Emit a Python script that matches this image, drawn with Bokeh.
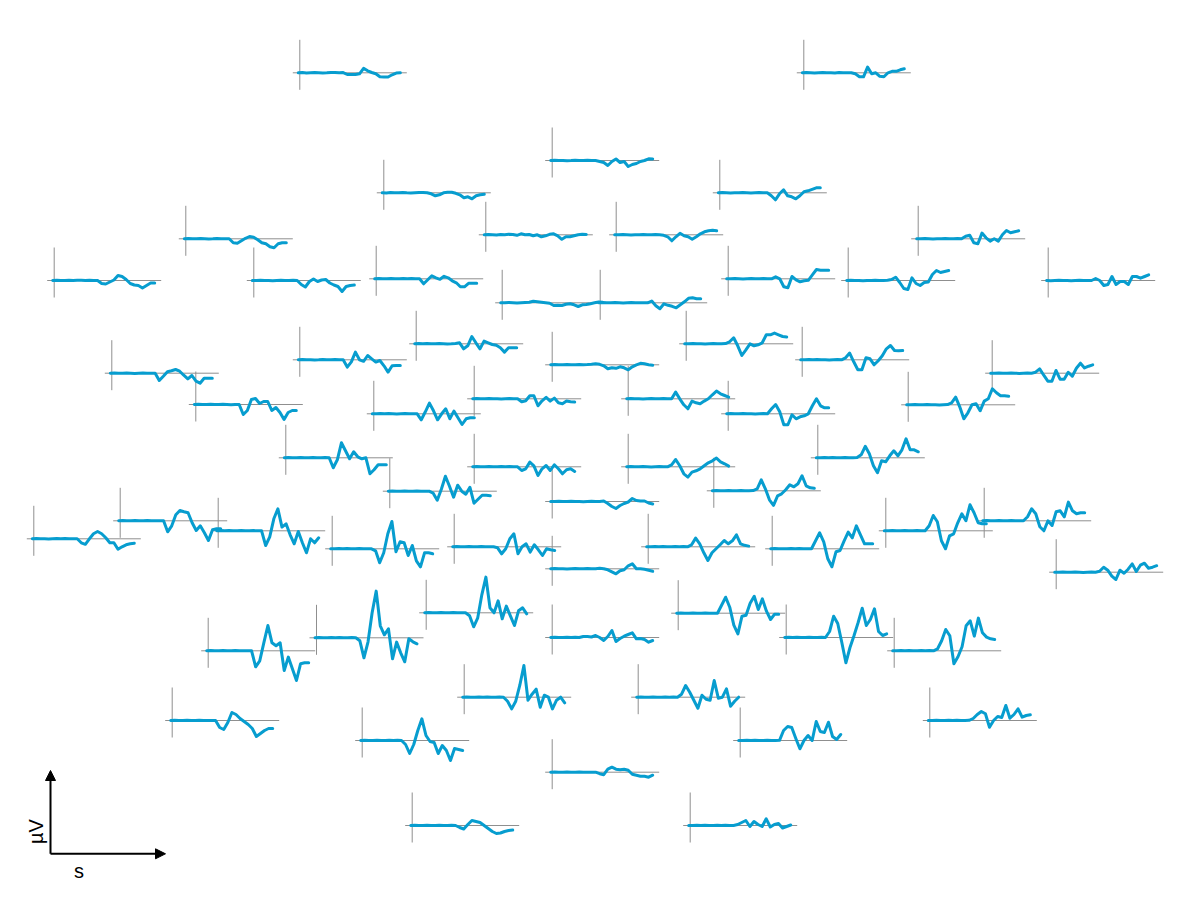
from math import pi
from bokeh.plotting import figure
from bokeh.models import Range1d, Arrow, NormalHead
from bokeh.embed import file_html
from bokeh.resources import INLINE
from bokeh.core.properties import value

# ---------------- data ----------------
times_ms = [-100, -80, -60, -40, -20, 0, 20, 40, 60, 80, 100, 120, 140,
            160, 180, 200, 220, 240, 260, 280, 300, 320, 340, 360, 380, 400]

# sensor layout positions (layout units)
pos_x = [299.3, 803.3, 551.7, 383.3, 719.3, 485.3, 615.7, 185.3, 917.7, 53.7,
         253.3, 375.7, 727.7, 847.7, 1047.7, 501.7, 599.7, 415.7, 685.7, 299.3,
         801.7, 551.7, 111.3, 991.7, 195.3, 907.7, 473.7, 627.7, 373.3, 727.7,
         285.3, 817.3, 473.7, 627.7, 389.3, 713.3, 551.7, 33.3, 119.7, 217.7,
         885.3, 983.7, 331.7, 453.7, 647.7, 771.7, 551.7, 1055.7, 425.7, 677.7,
         316.0, 551.7, 785.7, 207.7, 893.7, 463.7, 637.7, 171.7, 929.3, 361.7,
         739.7, 551.7, 411.7, 689.7]
pos_y = [72.3, 72.3, 160.0, 192.3, 192.3, 234.3, 234.3, 238.3, 238.3, 280.0,
         280.0, 278.3, 278.3, 280.0, 280.0, 302.3, 302.3, 343.3, 343.3, 359.3,
         359.3, 364.3, 372.7, 372.7, 404.0, 404.3, 398.3, 398.3, 413.3, 413.3,
         457.3, 457.3, 466.3, 466.3, 490.7, 490.3, 501.0, 538.3, 520.3, 530.3,
         530.3, 520.3, 548.3, 546.3, 546.3, 548.3, 568.3, 571.7, 612.3, 612.7,
         637.3, 637.0, 637.0, 650.3, 650.3, 696.7, 696.7, 720.0, 720.0, 740.0,
         740.0, 771.7, 825.0, 825.0]

# evoked amplitudes per channel (µV), one value per time sample
ch01 = [0, 0.3, -0.3, 0, 0.2, 0, -0.2, 0, 0.3, 0.3, 0, 0.2, -1.7, -1.7, -1.7, -1, 4.5, 2, 0.3, -1, -4, -4.3, -4.2, -2, -0.3, 0]
ch02 = [0, 0.2, 0, -0.2, 0, 0.2, 0, 0, -0.2, 0.2, 0, 0, 0, -1, -4, -4, 5.7, -1, 0, -3.5, -4, 0, 1.5, 1.5, 3, 4]
ch03 = [0, 0.2, 0, 0, -0.2, 0, 0.3, 0, 0, 0.2, 0, 0, -1, -2, -5, -1, 1.5, -2, -1, -6, -4, -3, -1, 0, 1.7, 1.5]
ch04 = [0, -0.2, 0.2, 0, 0, 0.3, 0, -0.2, 0, 0.2, 0.3, 0, -1, -3, -2, 0, 0.5, 0.5, -0.5, -2, -5, -4, -6, -3, -2, -1.5]
ch05 = [0, 0.2, 0, -0.2, 0, 0, 0.2, 0, -0.2, 0, 0.2, 0, 0, -3, -7, -1, 3, -3, -4, -6, -3, 1, 2, 3.5, 5, 5]
ch06 = [0, 0.3, 0, -0.3, 0.3, 0, 0.5, 0.3, -0.5, 1, 0, 0.3, -1, 0, -2, -1, 0.5, 1, -1, -4.5, -2, -2, -1, 0, 0.5, 0.3]
ch07 = [0, 0, 0.2, 0, -0.2, 0, 0, 0.3, 0, 0, 0.2, 0, -0.5, -2, -6, -2, 1.5, -1, -2, -4.5, -2, 1, 3, 4, 4.5, 4]
ch08 = [0, 0.2, 0, 0, 0.2, 0, -0.2, 0, 0.3, 0, 0, 0, -4, -4.5, -2, 0.5, 2.3, 1.5, -1, -4, -5, -8, -9, -5, -4, -4]
ch09 = [0, 0, 0.2, 0, -0.2, 0, 0, 0.2, 0, 0, 0.2, 0, 2.5, 3.5, -4, -5, 5.7, 1, -2.3, 0, -2.3, 4, 8.3, 6, 7, 8]
ch10 = [0, 0.3, 0, 0, 0.2, 0, 0.2, 0.3, 0, 0.2, 0, 0, -3, -3.5, -1.5, 0.5, 5, 4, 1, -3, -4.5, -5, -7.5, -5, -2.5, -2.5]
ch11 = [0, 0, 0.2, 0, 0, -0.2, 0, 0.2, 0, 0, 0.2, 0, -4, -6.5, -1, 1.5, -1, 0.5, 1, -2.5, -4.5, -6, -11, -6, -5, -4.5]
ch12 = [0, 0.3, 0, 0, 0.2, 0, 0, 0.3, 0, 0.2, 0, 0, -5, -1, 3, 1, -0.5, 2.5, 1, -2, -4, -8, -8, -4.5, -4.5, -4.5]
ch13 = [0, 0, 0.2, 0, -0.2, 0, 0.2, 0, 0, 0.2, 0, 0, 2, 0, -8, -9, 2.3, -1, -3, -2, -1.5, 4, 9.3, 8.5, 8.5, 8.5]
ch14 = [0, 0.2, 0, 0, -0.2, 0, 0, 0.2, 0, 0, 0.3, 1, 3.3, -2, -8, -9, 2.7, -3, -5, -2, -1.5, 6, 10, 8, 9, 10]
ch15 = [0, -0.2, 0, 0.2, 0, 0, -0.2, 0, 0.2, 0, 0, 0, 2, 0, -5, -4, 4, -4, -1, -1, -4, 4, 4, 2.3, 4, 5.7]
ch16 = [0, 0, 0.3, 0, -0.3, 0, 0.3, 0.5, 1.5, 1, 0.5, 0, -0.5, -2.7, -2.5, -2.7, -1.5, -1, -2, -3.7, -2, -1.7, -1, 0, 0.7, 0.5]
ch17 = [0, 0.2, 0, 0, 0.2, 0, -0.2, 0, 0.2, 0, 0, 0, 0, 1.7, -3, -6, -1, -2.5, -3.5, -5, -2, 1, 4.5, 5, 4, 4]
ch18 = [0, 0.2, 0, 0.3, 0, 0, 0.2, 0, -0.2, 0, 0.3, 1, -5, -2, 7.3, 1, -5, 2.7, 1, -0.7, -1.5, -4, -8.3, -4, -4, -4]
ch19 = [0, 0, 0.2, 0, 0, -0.2, 0, 0.2, 0, 0, 0.2, 2, 6, -2, -11.7, -6, 0, -2, -1, 1, 9, 9, 10.7, 9, 7.3, 6.7]
ch20 = [0, 0.2, 0, 0, -0.2, 0, 0.3, 0, 0, 0.2, 0, 0, -7.3, -2, 7.7, 0, -1.5, 4.3, 1, -2.3, -0.7, -6, -12.3, -6, -5.7, -5.7]
ch21 = [0, 0, 0.2, 0, 0.2, 0, 0, -0.2, 0, 0.2, 0, 2, 6.7, -2, -10, -10, 2, 1, -5, -1, 4, 11, 14.3, 9.3, 9, 9.3]
ch22 = [0, 0.2, 0, 0, 0.2, 0, 0, 0.3, 0, 0.2, 0.5, 1, 0.5, -1, -4, -3, -3.5, -2, -3, -5, -2, 0, 1.5, 1, 0, -0.5]
ch23 = [0, 0.2, 0, 0, 0.2, 0, -0.2, 0, 0.2, 0, 0, 0, -7.3, -3, 1.5, 2.5, 3.7, 2, -2, -5.7, -2.3, -8, -10, -5, -5, -5]
ch24 = [0, 0, 0.2, 0, 0, 0.2, 0, -0.2, 0, 0.2, 0, 1, 4.3, -2, -8, -8, 2.7, -6, -6, 1, -3, 5, 10, 5.3, 7, 8.3]
ch25 = [0, 0.2, 0, 0, 0.2, 0, 0, 0.2, 0, -0.2, 0, 0, -10, -6, 5, 6, 1, 3, 3, -6, -3, -8, -15, -8, -6, -6]
ch26 = [0, 0, 0.2, 0, 0, 0.2, 0, 0, -0.2, 0, 0.2, 2, 7.7, -2, -14, -8, 0, 1, -6, 3.7, 6, 16, 12, 9, 9, 8.5]
ch27 = [0, 0.2, 0, 0, 0.2, 0, 0, -0.2, 0, 0.2, 0, 0, -3, -2, 3, 3, -7, -2, 1.5, -2.3, 0.7, -4, -5, -2.3, -3, -3.3]
ch28 = [0, 0.2, 0, 0, -0.2, 0, 0.2, 0, 0, 0.2, 0, 0, 6.7, 0, -6, -10, -2.3, -4, -5, -2.3, 0, 4, 7.7, 5, 3.3, 1.7]
ch29 = [0, 0, 0.2, 0, 0.2, 0, -0.2, 0, 0.2, 0, 0, 0, -6, 2, 10.7, 3, -6, 0, 5, -5, 2.7, -4, -10.7, -5, -4, -4]
ch30 = [0, 0.2, 0, 0, 0.2, 0, 0, -0.2, 0, 0.2, 0, 5, 9.3, 2, -11, -11, -1, -5, -3, -2, 0, 8, 15, 8, 6, 6]
ch31 = [0, 0.2, 0, 0, 0.3, 0, 0, 0.2, 0, 0, 0.2, 0, -10, -2, 15, 7, -1, 6, 1, -1, 0, -16, -12, -7, -7, -7]
ch32 = [0, 0, 0.2, 0, 0.2, 0, 0, 0.2, 0, 0, 0.2, 3, 11.5, 4, -8, -15, -3, -4, 2, 7, 2, 8, 19, 8, 8, 6]
ch33 = [0, 0.2, 0, 0, 0.2, 0, 0, 0.3, 0, 0.2, 0, 0, -3.7, -2, 4.7, 1, -8.7, -2, 1.3, -3.7, 2, -2, -7, -3, -2, -4.7]
ch34 = [0, 0.2, 0, 0, 0.2, 0, -0.2, 0, 0.2, 0, 0, 2, 7.3, 1, -7, -10.3, -5.3, -4, -2, 1, 4, 6, 8.7, 5, 3, 0.7]
ch35 = [0, 0.2, 0, 0, 0.3, 0, 0, 0.2, 0, 0, 0, -2, -9, 2, 15, 5, -6, 6, 0, -3, 4, -12, -8, -4, -4, -4.5]
ch36 = [0, 0.2, 0, 0, 0.2, 0, 0, 0.2, 0, 0, 0.2, 2, 11, 2, -9, -14.5, -5, -3, 1, 6, 4, 7, 15, 5, 3, 2.5]
ch37 = [0, 0, 0.2, 0, 0, 0.2, 0, 0, -0.2, 0, 0.2, 0, 0, 0.5, -2, -5, -7, -4, -2, -0.5, 3, 1, 0.5, 0.5, -1.5, -2.5]
ch38 = [0, 0.2, 0, 0, -0.2, 0, 0.2, 0, 0.2, 0, 0, 0, -4, -5.5, 0, 5, 7.3, 5, 1, -4, -4, -10.5, -8, -6, -5, -4.5]
ch39 = [0, 0.2, 0, 0, 0.2, 0, 0, 0.3, 0, 0, 0, 0, -11, -5, 6, 10.3, 9, 8, -2, -9.7, -5, -12, -19.7, -9, -8, -8]
ch40 = [0, 0.2, 0, 0.2, 0, 0, 0.2, 0, 0, 0.2, 0, 0, -14.7, -6, 12, 22, 3.7, 7, -4, -13, -0.7, -12, -22, -8, -12, -7]
ch41 = [0, 0, 0.2, 0, 0, 0.2, 0, 0, 0.2, 0, 0, 5, 15.3, 9, -10, -18, -5, -3, 8, 17, 10, 26, 18, 8, 7, 7]
ch42 = [0, 0.2, 0, 0, 0.2, 0, 0, 0.2, 0, 0, 0, 4, 12, 7, -6, -10, 0, -4.7, 9, 10, 4, 18.7, 10, 7, 8, 8]
ch43 = [0, 0, 0.2, 0, 0.2, 0, 0, 0.2, 0, 0, 0, -2, -14, -4, 15, 27.3, -3, 7, 6, -6.7, 3.3, -12, -18, -4, -4, -5]
ch44 = [0, 0.2, 0, 0, 0.2, 0, 0, 0.3, 0, 0, 0, -1, -7, -2, 8, 13, -7, 0, 3, -5.3, 2, -3, -8.7, -2, -3, -3.7]
ch45 = [0, 0, 0.2, 0, 0.2, 0, 0, 0.2, 0, 0.2, 0, 2, 8.7, 3, -6, -13.7, -6, -2, 2, 6.3, 3, 6, 12, 3, 1.5, 0.7]
ch46 = [0, 0.2, 0, 0, 0, 0.2, 0, 0.2, 0, 0, 0, 8, 16, 7, -10, -18, -3, -1.7, 8, 16.7, 11, 23, 14, 5, 5, 5]
ch47 = [0, 0.2, 0, 0, -0.2, 0, 0.2, 0, 0, 0.2, 0, 0, 0.5, 0, -1, -3, -5, -2, -1, 3, 5, 0, 0, -0.5, -1.5, -2.5]
ch48 = [0, 0, 0.2, 0, 0, 0.2, 0, -0.2, 0, 0.2, 0, 1, 5, 2, -4, -7.3, 2, -1, 3, 8.3, 0.7, 7, 9, 4, 5, 6.5]
ch49 = [0, 0.2, 0, 0, 0.3, 0, 0, 0.2, 0, 0, 0, -3, -14, -5, 18, 35.7, 5, 0, 12, -6, 6.7, -3, -12.7, 2, 5, -1]
ch50 = [0, 0.2, 0, 0, 0.2, 0, 0, 0.2, 0, 0, 0, 8, 16, 6, -12, -20.7, -3, -2, 10, 17, 3.7, 14.3, 2, -6.3, -1, -1]
ch51 = [0, 0.2, 0, 0, 0.2, 0, 0.3, 0, 0, 0.2, 0, -3, -20, -4, 25, 46.7, 12, 3, 9, -21, -4.3, -15, -24, -1, -4, -6]
ch52 = [0, 0.2, 0, 0, 0.2, 0, 0.3, 0, 1, 1, 0.5, 2, 0, -3, 1, 7, -4, -1, 1.3, 3, 4.7, -1.3, -1, -2, -4.7, -3]
ch53 = [0, 0.2, 0, 0.2, 0, 0, 0.2, 0, 0, 0.2, 0, 6, 21.3, 14, -5, -25.3, -10, 2, 15, 29.3, 12, 18, 28.7, 6, 2, 3.7]
ch54 = [0, 0.2, 0, 0, 0.2, 0, 0, 0.3, 0, 0, 0, 0, -16, -10, 8, 25.3, 8, 5, 8, -19.7, -6.3, -18, -29.7, -13, -12, -12]
ch55 = [0, 0, 0.2, 0, 0.2, 0, 0, 0.2, 0, 0.3, 0, 2, 10, 21.3, 15, -13, -6, 4, 25, 30, 14.7, 32.7, 18, 13.7, 12, 11.3]
ch56 = [0, 0.2, 0, 0, 0.2, 0, 0.3, 0, 0, 0.2, 0, -4, -11.7, -4, 12, 31.7, -3, 3, 8, -10, 2, 0, -11.7, -3, 0, -5.7]
ch57 = [0, 0.2, 0, 0, 0.2, 0, 0, 0.2, 0, 0.2, 0, 3, 11.7, 5, -3, -11, 2, -2, -3, 16.7, -1, 0, 8.3, -9, -4, 0]
ch58 = [0, 0.2, 0, 0, 0.3, 0, 0, 0.2, 0, 0, 0, 0, -7, -9, -2, 8, 6, 2, -1, -4, -8, -16, -13, -10, -8, -8]
ch59 = [0, 0, 0.2, 0, 0, 0.2, 0, 0.2, 0, 0, 0.2, 2, 6, 9, 6.7, -6.7, 0, 4, 3, 15, 2.3, 6, 11.7, 3.3, 5, 5.7]
ch60 = [0, 0.2, 0, 0, 0.2, 0, 0, 0.2, 0, 0.2, 0, -4, -13, -4, 10, 21.7, 5, -1, -2, -13, -5, -10, -20, -8, -9, -10]
ch61 = [0, 0, 0.2, 0, 0.2, 0, 0, 0.3, 0, 0, 0.2, 10, 14, 13, 2, -8.3, 0, 5, 0, 19, 9, 8, 18.3, 4, 1, 6]
ch62 = [0, 0.2, 0, 0, 0.2, 0, 0, 0.2, 0, 0, 0, 0, -1.5, -2.5, 3, 5, 3, 2.5, 3, 2, -2, -3, -4, -4, -5, -3]
ch63 = [0, 0.2, 0, 0, 0.2, 0, 0, 0.2, 0, 0, 0.2, 0, -2, -3.5, 1, 5, 4, 3, 0, -3, -6, -8, -7.5, -6, -5, -4.5]
ch64 = [0, 0, 0.2, 0, 0.2, 0, 0, 0.2, 0, 0.2, 0, 0, 1, 3, 5, -1, 4, 1, -1, 6.7, -1.5, 1, 2, -2.5, -1, 0.5]

channels = [ch01, ch02, ch03, ch04, ch05, ch06, ch07, ch08, ch09, ch10,
            ch11, ch12, ch13, ch14, ch15, ch16, ch17, ch18, ch19, ch20,
            ch21, ch22, ch23, ch24, ch25, ch26, ch27, ch28, ch29, ch30,
            ch31, ch32, ch33, ch34, ch35, ch36, ch37, ch38, ch39, ch40,
            ch41, ch42, ch43, ch44, ch45, ch46, ch47, ch48, ch49, ch50,
            ch51, ch52, ch53, ch54, ch55, ch56, ch57, ch58, ch59, ch60,
            ch61, ch62, ch63, ch64]

for i, c in enumerate(channels):
    if len(c) != len(times_ms):
        raise ValueError("channel %d has %d samples" % (i + 1, len(c)))

# ---------------- geometry / style ----------------
INSET_W = 102.0       # width of one trace (layout units)
PX_PER_UV = 1.0       # vertical scale
T0, T1 = times_ms[0], times_ms[-1]
WAVE_COLOR = "#079dcf"
AXIS_COLOR = "#8f8f8f"

p = figure(width=1184, height=884,
           x_range=Range1d(0, 1184), y_range=Range1d(884, 0),
           x_axis_type=None, y_axis_type=None,
           output_backend="svg", toolbar_location=None, min_border=0)
p.grid.visible = False
p.outline_line_color = None
p.background_fill_color = "white"

ax_xs, ax_ys = [], []
wv_xs, wv_ys = [], []
for x0, y0, amp in zip(pos_x, pos_y, channels):
    ax_xs.append([x0 - 7, x0 + 107]); ax_ys.append([y0, y0])
    ax_xs.append([x0, x0]); ax_ys.append([y0 - 33, y0 + 17])
    wv_xs.append([x0 - 1.5 + (t - T0) / (T1 - T0) * INSET_W for t in times_ms])
    wv_ys.append([y0 - a * PX_PER_UV for a in amp])

p.multi_line(ax_xs, ax_ys, line_color=AXIS_COLOR, line_width=1)
p.multi_line(wv_xs, wv_ys, line_color=WAVE_COLOR, line_width=3,
             line_join="round", line_cap="round")

# scale-bar arrows
p.add_layout(Arrow(end=NormalHead(size=10, fill_color="black", line_color="black"),
                   x_start=50, y_start=853.3, x_end=50, y_end=770,
                   line_color="black", line_width=2))
p.add_layout(Arrow(end=NormalHead(size=10, fill_color="black", line_color="black"),
                   x_start=50, y_start=853.3, x_end=165, y_end=853.3,
                   line_color="black", line_width=2))

p.text(x=[35], y=[831], text=["µV"], angle=pi / 2, text_align="center",
       text_baseline="middle", text_font=value("Liberation Sans"),
       text_font_size="20px", text_color="black")
p.text(x=[78.5], y=[881], text=["s"], text_align="center",
       text_baseline="bottom", text_font=value("Liberation Sans"),
       text_font_size="20px", text_color="black")

open("out.html", "w").write(file_html(p, INLINE))
